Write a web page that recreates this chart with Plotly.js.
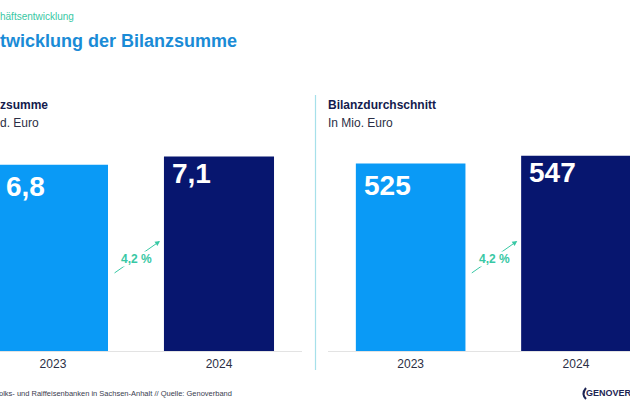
<!DOCTYPE html>
<html>
<head>
<meta charset="utf-8">
<script src="https://cdn.plot.ly/plotly-3.0.1.min.js"></script>
<style>html,body{margin:0;padding:0;background:#fff;}#chart{width:630px;height:412px;}</style>
</head>
<body>
<div id="chart"></div>
<script>
// Data
const years = ['2023', '2024'];
const bilanzsumme = [6.8, 7.1];             // Mrd. Euro
const bilanzsummeLabels = ['6,8', '7,1'];
const durchschnitt = [525, 547];            // Mio. Euro
const durchschnittLabels = ['525', '547'];
const growthLabels = ['4,2 %', '4,2 %'];

const LIGHT = '#0A9AF6';
const NAVY = '#07166F';
const TEAL = '#38C8A4';
const FONT = 'Liberation Sans, Arial, sans-serif';
const BARW = 0.663;

const traces = [
  {type: 'bar', x: years, y: bilanzsumme, xaxis: 'x', yaxis: 'y', width: BARW,
   marker: {color: [LIGHT, NAVY]}, hoverinfo: 'none', showlegend: false},
  {type: 'bar', x: years, y: durchschnitt, xaxis: 'x2', yaxis: 'y2', width: BARW,
   marker: {color: [LIGHT, NAVY]}, hoverinfo: 'none', showlegend: false}
];

const ann = [];
const labelShift = [-4, 1];
function barLabels(vals, labels, xr, yr) {
  vals.forEach((v, i) => {
    ann.push({xref: xr, yref: yr, x: i - BARW / 2 + 0.035, y: v, xanchor: 'left', yanchor: 'top',
      xshift: 0, yshift: labelShift[i], showarrow: false, text: '<b>' + labels[i] + '</b>',
      font: {family: FONT, size: 28, color: '#ffffff'}});
  });
}
barLabels(bilanzsumme, bilanzsummeLabels, 'x', 'y');
barLabels(durchschnitt, durchschnittLabels, 'x2', 'y2');

function growth(label, xr) {
  ann.push({xref: xr, yref: 'paper', x: 0.645, y: 1 - 241 / 412, ax: -47, ay: 33,
    axref: 'pixel', ayref: 'pixel', text: '', showarrow: true, arrowhead: 2,
    arrowsize: 1, arrowwidth: 1, arrowcolor: TEAL});
  ann.push({xref: xr, yref: 'paper', x: 0.505, y: 1 - 259 / 412, showarrow: false,
    text: '<b>' + label + '</b>', bgcolor: '#ffffff', borderpad: 0,
    font: {family: FONT, size: 12, color: TEAL}});
}
growth(growthLabels[0], 'x');
growth(growthLabels[1], 'x2');

function txt(x, y, text, size, color, bold, anchor) {
  ann.push({xref: 'paper', yref: 'paper', x: x / 630, y: 1 - y / 412, xanchor: anchor || 'left',
    yanchor: 'middle', showarrow: false, text: bold ? '<b>' + text + '</b>' : text,
    font: {family: FONT, size: size, color: color}});
}
txt(-2, 17, 'häftsentwicklung', 10, TEAL, false);
txt(-2, 41, 'twicklung der Bilanzsumme', 18, '#1A8BD6', true);
txt(-2, 105, 'zsumme', 12, '#141B4D', true);
txt(-2, 123, 'd. Euro', 12, '#2b2f45', false);
txt(326, 105, 'Bilanzdurchschnitt', 12, '#141B4D', true);
txt(326, 123, 'In Mio. Euro', 12, '#2b2f45', false);
txt(-3, 393, 'olks- und Raiffeisenbanken in Sachsen-Anhalt // Quelle: Genoverband', 7.5, '#3a3d4f', false);
txt(584, 393, 'GENOVER', 9, '#1d2554', true);

const axX = {type: 'category', showgrid: false, zeroline: false, showline: true,
  linecolor: '#e3e3e3', linewidth: 1, ticks: '', fixedrange: true, ticklabelstandoff: 2,
  tickfont: {family: FONT, size: 12, color: '#2b2f45'}};
const axY = {showgrid: false, zeroline: false, showline: false, showticklabels: false,
  ticks: '', fixedrange: true};

const layout = {
  width: 630, height: 412,
  margin: {l: 0, r: 0, t: 0, b: 0},
  paper_bgcolor: '#ffffff', plot_bgcolor: 'rgba(0,0,0,0)',
  showlegend: false,
  xaxis: Object.assign({}, axX, {domain: [0, 302 / 630], range: [-0.319, 1.5], anchor: 'y'}),
  xaxis2: Object.assign({}, axX, {domain: [328 / 630, 1], range: [-0.5, 1.327], anchor: 'y2'}),
  yaxis: Object.assign({}, axY, {domain: [61 / 412, 1 - 95 / 412], range: [0, 9.346], anchor: 'x'}),
  yaxis2: Object.assign({}, axY, {domain: [61 / 412, 1 - 95 / 412], range: [0, 717], anchor: 'x2'}),
  annotations: ann,
  shapes: [
    {type: 'line', xref: 'paper', yref: 'paper', x0: 315.5 / 630, x1: 315.5 / 630,
     y0: 1 - 95 / 412, y1: 1 - 370 / 412, line: {color: '#A6E0EA', width: 1.2}},
    {type: 'path', xref: 'paper', yref: 'paper',
     path: 'M ' + (586 / 630) + ' ' + (1 - 388 / 412) + ' Q ' + (581 / 630) + ' ' + (1 - 394 / 412) + ' ' + (586 / 630) + ' ' + (1 - 399 / 412),
     line: {color: '#1d2554', width: 2}}
  ]
};

Plotly.newPlot('chart', traces, layout, {staticPlot: true, displayModeBar: false});
</script>
</body>
</html>
